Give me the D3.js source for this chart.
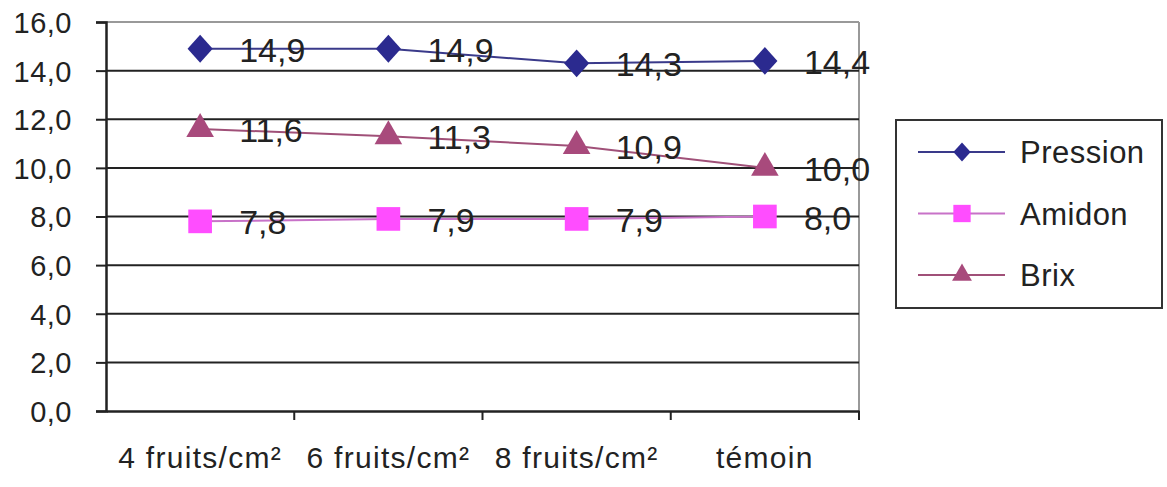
<!DOCTYPE html>
<html><head><meta charset="utf-8">
<script src="https://cdn.jsdelivr.net/npm/d3@7"></script>
<style>body{margin:0;background:#fff}svg{display:block}text{font-family:"Liberation Sans",Arial,sans-serif;fill:#222}</style>
</head><body><svg id="c" width="1167" height="487"></svg>
<script>
const categories = ["4 fruits/cm²", "6 fruits/cm²", "8 fruits/cm²", "témoin"];
const pression = [14.9, 14.9, 14.3, 14.4];
const amidon = [7.8, 7.9, 7.9, 8.0];
const brix = [11.6, 11.3, 10.9, 10.0];
const seriesNames = ["Pression", "Amidon", "Brix"];
const yTicks = [0, 2, 4, 6, 8, 10, 12, 14, 16];

const diamondSq = {draw(ctx, size) { const r = Math.sqrt(size) / 2; ctx.moveTo(0, -r * 1.05); ctx.lineTo(r * 0.95, 0); ctx.lineTo(0, r * 1.05); ctx.lineTo(-r * 0.95, 0); ctx.closePath(); }};

const series = [
  {name: seriesNames[0], values: pression, color: "#2b2a8f", line: "#3a3a8a", sym: diamondSq, size: 700, lsize: 330},
  {name: seriesNames[1], values: amidon, color: "#ff4dff", line: "#c872c8", sym: d3.symbolSquare, size: 560, lsize: 300},
  {name: seriesNames[2], values: brix, color: "#a84a7c", line: "#a05078", sym: d3.symbolTriangle, size: 330, lsize: 170}
];

const svg = d3.select("#c");
const L = 106, R = 859, T = 22, B = 411;
const x = d3.scaleBand().domain(categories).range([L, R]);
const y = d3.scaleLinear().domain([0, 16]).range([B, T]);
const fmt = v => d3.format(".1f")(v).replace(".", ",");

// plot frame
svg.append("line").attr("x1", L).attr("x2", R).attr("y1", T).attr("y2", T).attr("stroke", "#999").attr("stroke-width", 2);
svg.append("line").attr("x1", R).attr("x2", R).attr("y1", T).attr("y2", B).attr("stroke", "#999").attr("stroke-width", 2);
// gridlines
svg.append("g").selectAll("line").data(yTicks.filter(t => t > 0 && t < 16)).join("line")
  .attr("x1", L).attr("x2", R).attr("y1", d => y(d)).attr("y2", d => y(d))
  .attr("stroke", "#222").attr("stroke-width", 2);

// y axis
const ya = svg.append("g").attr("transform", `translate(${L},0)`)
  .call(d3.axisLeft(y).tickValues(yTicks).tickFormat(fmt).tickSize(10).tickPadding(24));
ya.select(".domain").attr("stroke", "#222").attr("stroke-width", 2.5);
ya.selectAll(".tick line").attr("stroke", "#222").attr("stroke-width", 2);
ya.selectAll("text").style("font-size", "29px").style("letter-spacing", "0.5px").attr("fill", "#333").attr("dy", "0.36em");

// x axis
const xa = svg.append("g").attr("transform", `translate(0,${B})`)
  .call(d3.axisBottom(x).tickSize(0).tickPadding(0));
xa.select(".domain").attr("stroke", "#222").attr("stroke-width", 2.5);
xa.selectAll("text").style("font-size", "30px").style("letter-spacing", "1.3px").attr("fill", "#333")
  .attr("dy", null).attr("y", 57);
// category boundary ticks
svg.append("g").selectAll("line").data(categories.slice(1).concat([null])).join("line")
  .attr("x1", (d, i) => i < categories.length - 1 ? x(categories[i + 1]) : R)
  .attr("x2", (d, i) => i < categories.length - 1 ? x(categories[i + 1]) : R)
  .attr("y1", B).attr("y2", B + 9).attr("stroke", "#222").attr("stroke-width", 2);

const cx = c => x(c) + x.bandwidth() / 2;
const lineGen = d3.line().x((d, i) => cx(categories[i])).y(d => y(d));

series.forEach(s => {
  svg.append("path").datum(s.values).attr("d", lineGen)
    .attr("fill", "none").attr("stroke", s.line).attr("stroke-width", 2);
});
series.forEach(s => {
  svg.append("g").selectAll("path").data(s.values).join("path")
    .attr("d", d3.symbol().type(s.sym).size(s.size))
    .attr("transform", (d, i) => `translate(${cx(categories[i])},${y(d)})`)
    .attr("fill", s.color);
  svg.append("g").selectAll("text").data(s.values).join("text")
    .attr("x", (d, i) => cx(categories[i]) + 39)
    .attr("y", d => y(d) + 13)
    .style("font-size", "34px").attr("fill", "#333")
    .text(fmt);
});

// legend
const lg = svg.append("g");
lg.append("rect").attr("x", 896).attr("y", 120).attr("width", 266).attr("height", 188)
  .attr("fill", "#fff").attr("stroke", "#333").attr("stroke-width", 2);
series.forEach((s, i) => {
  const ly = 152 + i * 61.5;
  lg.append("line").attr("x1", 918).attr("x2", 1005).attr("y1", ly).attr("y2", ly)
    .attr("stroke", s.line).attr("stroke-width", 2);
  lg.append("path").attr("d", d3.symbol().type(s.sym).size(s.lsize))
    .attr("transform", `translate(962,${ly})`).attr("fill", s.color);
  lg.append("text").attr("x", 1020).attr("y", ly + 11).style("font-size", "31px").style("letter-spacing", "0.5px").attr("fill", "#333").text(s.name);
});
</script></body></html>
